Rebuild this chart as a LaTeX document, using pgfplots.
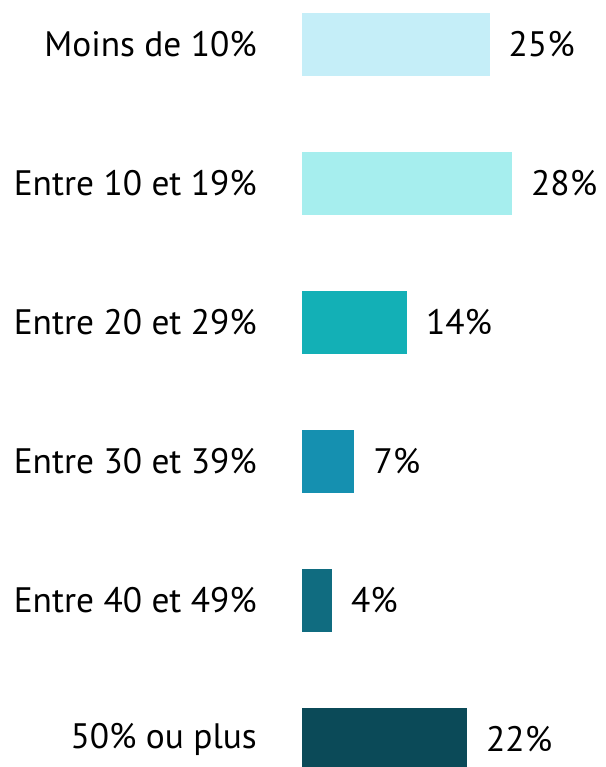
\documentclass[border=0pt]{standalone}
\usepackage{pgfplots}
\pgfplotsset{compat=1.18}
\usepackage{fontspec}
\setmainfont{PT Sans}
\definecolor{c1}{HTML}{C5EEF8}
\definecolor{c2}{HTML}{A6EEEE}
\definecolor{c3}{HTML}{13B0B6}
\definecolor{c4}{HTML}{1590B0}
\definecolor{c5}{HTML}{106C80}
\definecolor{c6}{HTML}{0B4A58}
\begin{document}
\begin{tikzpicture}
\begin{axis}[
  xbar, bar shift=0pt, bar width=0.46,
  scale only axis, width=304bp, height=767bp,
  xmin=0, xmax=40.533, ymin=-0.32, ymax=5.198, y dir=reverse,
  axis line style={draw=none}, major tick length=0pt,
  /pgf/number format/assume math mode=true,
  xtick=\empty, ytick={0,1,2,3,4,5},
  yticklabels={Moins de 10\%, Entre 10 et 19\%, Entre 20 et 29\%, Entre 30 et 39\%, Entre 40 et 49\%, 50\% ou plus},
  yticklabel style={anchor=east, inner sep=0pt, xshift=-45bp, font=\fontsize{35.5}{40}\selectfont},
  point meta=x,
  nodes near coords={\pgfmathprintnumber{\pgfplotspointmeta}\%},
  nodes near coords style={anchor=west, inner sep=0pt, xshift=19bp, font=\fontsize{35.5}{40}\selectfont, text=black},
  every axis plot/.append style={draw=none},
]
\addplot[fill=c1] coordinates {(25,0)};
\addplot[fill=c2] coordinates {(28,1)};
\addplot[fill=c3] coordinates {(14,2)};
\addplot[fill=c4] coordinates {(7,3)};
\addplot[fill=c5] coordinates {(4,4)};
\addplot[fill=c6] coordinates {(22,5)};
\end{axis}
\pgfresetboundingbox
\path (-302bp,0) rectangle (304bp,767bp);
\end{tikzpicture}
\end{document}
